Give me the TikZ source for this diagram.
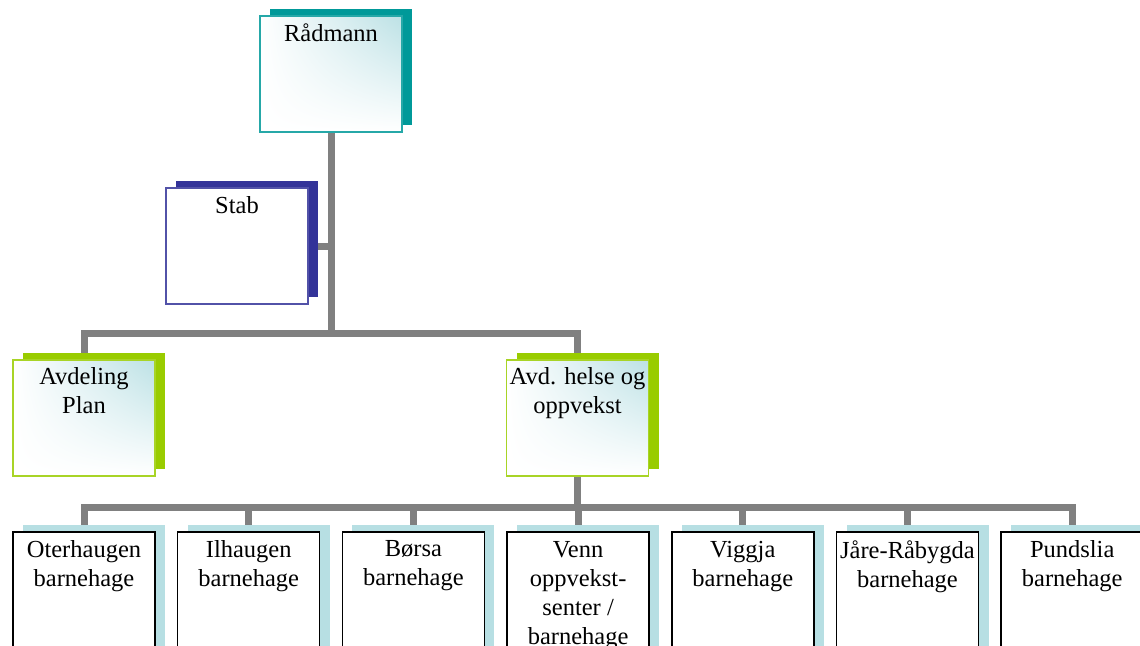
\documentclass[tikz,border=0pt]{standalone}
\usepackage{fontspec}
\setmainfont{Liberation Serif}
\usetikzlibrary{positioning,shadows,shadings,backgrounds}

\definecolor{raadteal}{RGB}{0,153,153}
\definecolor{stabblue}{RGB}{51,51,153}
\definecolor{avdgreen}{RGB}{153,204,0}
\definecolor{kidcyan}{RGB}{183,223,227}
\definecolor{glow}{RGB}{188,225,229}
\definecolor{busgray}{RGB}{128,128,128}

\tikzset{
	box/.style={rectangle, minimum width=142pt, minimum height=116pt, inner sep=0pt, line width=1.5pt},
	glowbox/.style={box, shade, upper left=white, upper right=glow, lower left=white, lower right=white},
	shadowed/.style={drop shadow={shadow xshift=10pt, shadow yshift=7pt, opacity=1, fill=#1}},
	txt/.style={align=center, inner sep=0pt, font=\fontsize{24.5}{29}\selectfont},
	bus/.style={draw=busgray, line width=7pt}
}

\begin{document}
\begin{tikzpicture}[x=1pt, y=-1pt]
		\clip (0,0) rectangle (1140,645);
		\useasboundingbox (0,0) rectangle (1140,645);

		\node[glowbox, draw=raadteal!85, shadowed=raadteal] (raad) at (331,74) {};
		\node[txt, below=8.5pt of raad.north] (raadtxt) {Rådmann};

		\node[box, fill=white, draw=stabblue!85, shadowed=stabblue] (stab) at (237,246) {};
		\node[txt, below=9.5pt of stab.north] (stabtxt) {Stab};

		\node[glowbox, draw=avdgreen!85, shadowed=avdgreen] (plan) at (84,418) {};
		\node[txt, below=8.5pt of plan.north] (plantxt) {Avdeling\\Plan};

		\node[glowbox, draw=avdgreen!85, shadowed=avdgreen] (helse) at (577.5,418) {};
		\node[txt, below=8.5pt of helse.north] (helsetxt) {Avd. helse og\\oppvekst};

		% barnehager
		\foreach \name/\txt [count=\i from 0] in {oter/{Oterhaugen\\barnehage}, ilh/{Ilhaugen\\barnehage}, borsa/{Børsa\\barnehage}, venn/{Venn\\oppvekst-\\senter /\\barnehage}, vigg/{Viggja\\barnehage}, jare/{Jåre-Råbygda\\barnehage}, pund/{Pundslia\\barnehage}}{
			\node[box, minimum height=150pt, fill=white, draw=black, shadowed=kidcyan] (\name) at ({84+164.7*\i},607) {};
			\node[txt, below=9.5pt of \name.north] (\name txt) {\txt};
		}

		\coordinate (bus1) at (331,333);
		\coordinate (bus2) at (577.5,507);

		\begin{scope}[on background layer]
			\draw[bus] (raad.south) -- (bus1);
			\draw[bus] (stab.east) -- (stab.east -| bus1);
			\draw[bus] (plan.north) |- (bus1) -| (helse.north);
			\draw[bus] (helse.south) -- (bus2);
			\draw[bus] (oter.north) |- (bus2) -| (pund.north);
			\foreach \name in {ilh,borsa,venn,vigg,jare}
				\draw[bus] (\name.north) -- (\name.north |- bus2);
		\end{scope}
	\end{tikzpicture}
\end{document}
